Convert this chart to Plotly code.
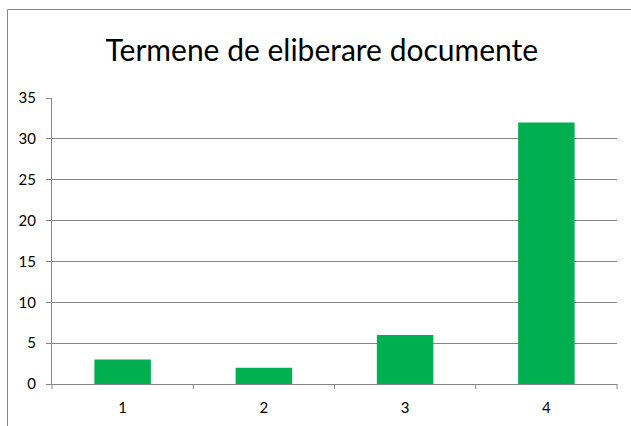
import plotly.graph_objects as go

categories = ["1", "2", "3", "4"]
values = [3, 2, 6, 32]
y_ticks = [0, 5, 10, 15, 20, 25, 30, 35]

FONT = "Lato"

fig = go.Figure(go.Bar(
    x=categories, y=values,
    marker=dict(color="#00B050", line=dict(width=0)),
    width=0.4,
))

L, R, T, B = 52, 14, 98, 42
W, H = 631, 426
pw, ph = W - L - R, H - T - B

fig.update_layout(
    width=W, height=H,
    margin=dict(l=L, r=R, t=T, b=B, autoexpand=False),
    paper_bgcolor="white", plot_bgcolor="white",
    showlegend=False,
    font=dict(family=FONT, color="#000000", size=15),
    title=dict(text="Termene de eliberare documente", x=0.51, xanchor="center",
               y=1 - 50 / H, yanchor="middle",
               font=dict(family=FONT, size=30, color="#000000")),
    xaxis=dict(type="category", showgrid=False, showline=True, linecolor="#868686",
               linewidth=1, ticks="", tickfont=dict(family=FONT, size=15),
               ticklabelstandoff=10),
    yaxis=dict(range=[0, 35], tickvals=y_ticks, showgrid=True, gridcolor="#868686",
               gridwidth=1, showline=True, linecolor="#868686", linewidth=1,
               ticks="outside", ticklen=5, tickcolor="#868686", zeroline=False,
               tickfont=dict(family=FONT, size=15), ticklabelstandoff=7),
    bargap=0.6,
)

# category boundary ticks below the x axis
for i in range(len(categories) + 1):
    fig.add_shape(type="line", xref="paper", yref="paper",
                  x0=i / len(categories), x1=i / len(categories),
                  y0=0, y1=-5 / ph, line=dict(color="#868686", width=1))

# chart frame
fig.add_shape(type="rect", xref="paper", yref="paper",
              x0=(7.5 - L) / pw, x1=(W + 5 - L) / pw,
              y0=-(H + 5 - T - ph) / ph, y1=(H - B - 9.5) / ph,
              line=dict(color="#888888", width=1), fillcolor="rgba(0,0,0,0)",
              layer="below")

fig.write_html("out.html", config={"displayModeBar": False},
               post_script="document.body.style.margin='0';")
